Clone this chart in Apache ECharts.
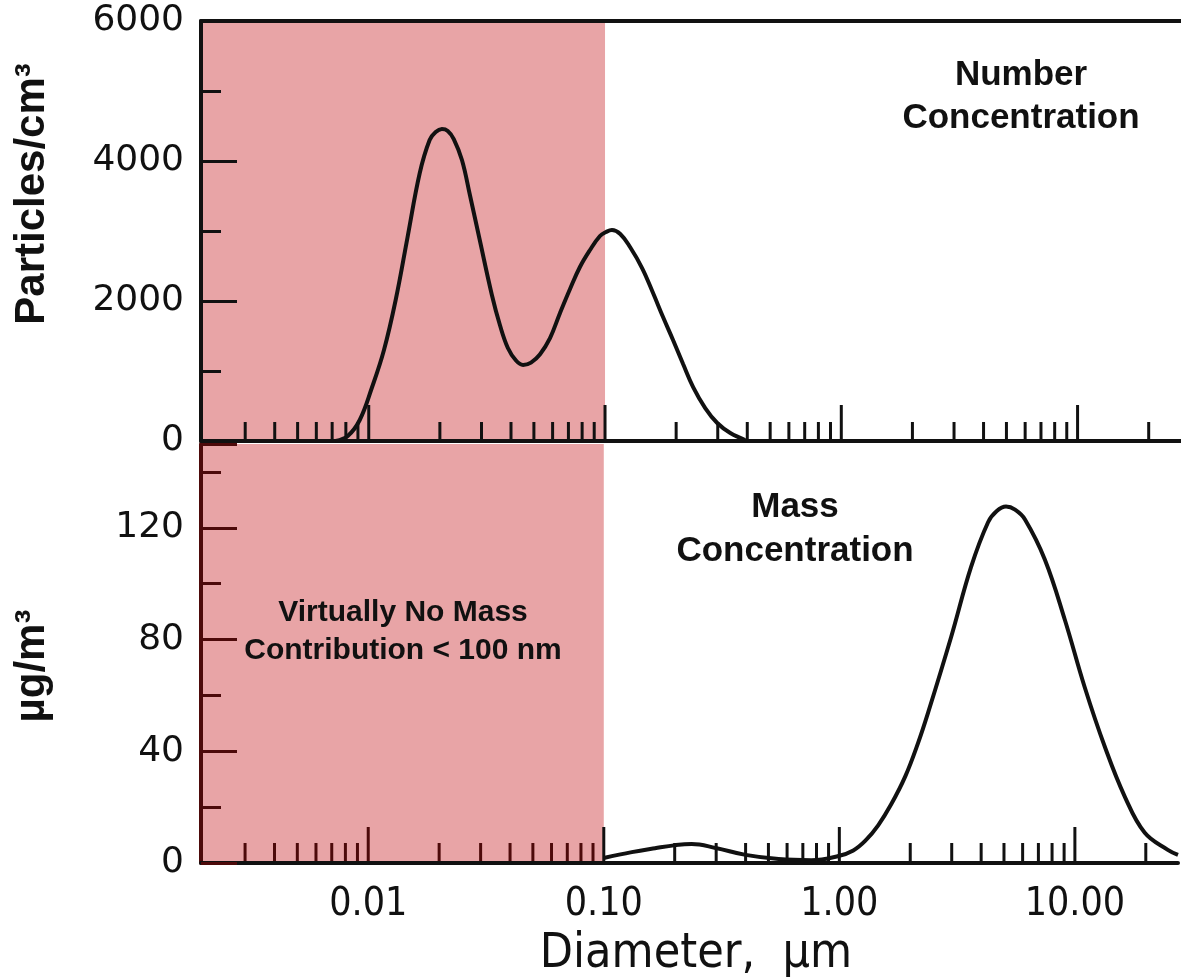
<!DOCTYPE html>
<html><head><meta charset="utf-8">
<script src="https://cdn.jsdelivr.net/npm/echarts@6/dist/echarts.min.js"></script>
<style>html,body{margin:0;padding:0;background:#fff}#c{width:1181px;height:979px}</style>
</head><body><div id="c"></div>
<script>
// ---- data ----
const xMin = 0.00195, xMax = 27.4;
const xTickValues = [0.01, 0.1, 1, 10];
const xTickLabels = ['0.01', '0.10', '1.00', '10.00'];
const minorTickValues = [0.003,0.004,0.005,0.006,0.007,0.008,0.009,
  0.02,0.03,0.04,0.05,0.06,0.07,0.08,0.09,
  0.2,0.3,0.4,0.5,0.6,0.7,0.8,0.9,
  2,3,4,5,6,7,8,9,20];
const majorTickValues = [0.01, 0.1, 1, 10];
const shadeEnd = 0.1;

const numberDiam = [0.00725,0.00815,0.00916,0.0103,0.0116,0.0130,0.0146,0.01644,0.0181,0.0192,0.0204,0.0216,0.0229,0.0248,0.0268,0.0295,0.0332,0.0359,0.0388,0.0420,0.0450,0.0486,0.0531,0.0585,0.0645,0.0711,0.0783,0.0864,0.0952,0.101,0.107,0.116,0.1276,0.1435,0.1597,0.176,0.194,0.214,0.236,0.2655,0.2985,0.339,0.392];
const numberConc = [0,71,300,757,1300,2014,2914,3829,4300,4414,4457,4429,4314,4014,3514,2871,2086,1657,1329,1150,1086,1120,1240,1470,1829,2171,2486,2729,2929,2986,3014,2957,2771,2471,2114,1771,1443,1100,771,471,257,114,14];

const massDiam = [0.1,0.1315,0.165,0.2018,0.236,0.2985,0.4,0.552,0.761,0.991,1.146,1.29,1.462,1.66,1.905,2.16,2.385,2.985,3.625,4.28,4.66,5.1,5.57,6.14,7.46,9.07,11.0,13.4,16.3,19.8,24.8,27.4];
const massConc = [1.8,3.9,5.3,6.4,6.8,5.4,2.9,1.4,1.0,2.5,4.5,8,13.5,21,31,43,54,81,106,122,126,127.6,126.5,123,108.6,87,63,41.6,23.7,10.8,4.7,2.9];

const topYMax = 6000, topYInterval = 2000, topYMinor = 1000;
const botYMax = 150, botYInterval = 40, botYMinor = 20;
const botYLabels = [0, 40, 80, 120];

// ---- chart ----
const chart = echarts.init(document.getElementById('c'), null, {renderer: 'canvas'});
const BLACK = '#111', MAROON = '#4d0a0a', PINK = '#e8a4a6';
const pairs = (xs, ys) => xs.map((x, i) => [x, ys[i]]);

function xFmt(v) {
  for (let i = 0; i < xTickValues.length; i++) {
    if (Math.abs(Math.log10(v) - Math.log10(xTickValues[i])) < 1e-6) return xTickLabels[i];
  }
  return '';
}
function tickSeries(grid, values, len, inPinkColor) {
  return {
    type: 'custom', xAxisIndex: grid, yAxisIndex: grid === 0 ? 0 : 1, z: 4, silent: true,
    data: values.map(v => [v, 0]),
    renderItem: function (params, api) {
      const v = api.value(0);
      const p = api.coord([v, 0]);
      return {type: 'line', shape: {x1: p[0], y1: p[1], x2: p[0], y2: p[1] - len},
        style: {stroke: v < shadeEnd ? inPinkColor : BLACK, lineWidth: 3}};
    }
  };
}
const logAxis = (grid, extra) => Object.assign({
  type: 'log', logBase: 10, gridIndex: grid, min: xMin, max: xMax,
  axisLine: {show: true, onZero: false, lineStyle: {color: BLACK, width: 4}},
  axisTick: {show: false}, splitLine: {show: false}, minorTick: {show: false},
  axisLabel: {show: false}, z: 6
}, extra || {});

const yLabelStyle = {fontFamily: '"DejaVu Sans"', fontSize: 36, color: BLACK, margin: 17, formatter: v => String(v)};

const option = {
  animation: false,
  backgroundColor: '#fff',
  grid: [
    {left: 201, top: 21, width: 980, height: 420},
    {left: 201, top: 444, width: 980, height: 419}
  ],
  xAxis: [
    logAxis(0, {position: 'bottom'}),
    logAxis(1, {position: 'bottom', axisLabel: {show: true, formatter: xFmt, fontFamily: '"DejaVu Sans Condensed", "DejaVu Sans", sans-serif', fontSize: 39, color: BLACK, margin: 22}}),
    logAxis(0, {position: 'top'})
  ],
  yAxis: [
    {type: 'value', gridIndex: 0, min: 0, max: topYMax, interval: topYInterval, position: 'left', z: 6,
      axisLine: {show: true, onZero: false, lineStyle: {color: BLACK, width: 4}},
      axisTick: {show: true, inside: true, length: 36, lineStyle: {color: BLACK, width: 3}},
      splitLine: {show: false}, axisLabel: yLabelStyle},
    {type: 'value', gridIndex: 1, min: 0, max: botYMax, interval: botYInterval, position: 'left', z: 6,
      axisLine: {show: true, onZero: false, lineStyle: {color: MAROON, width: 4}},
      axisTick: {show: true, inside: true, length: 36, lineStyle: {color: MAROON, width: 3}},
      splitLine: {show: false},
      axisLabel: Object.assign({}, yLabelStyle, {formatter: v => botYLabels.indexOf(v) >= 0 ? String(v) : ''})},
    {type: 'value', gridIndex: 1, min: 0, max: botYMax, interval: botYMinor, position: 'left', z: 5,
      axisLine: {show: false}, axisLabel: {show: false}, splitLine: {show: false},
      axisTick: {show: true, inside: true, length: 20, lineStyle: {color: MAROON, width: 3}}},
    {type: 'value', gridIndex: 0, min: 0, max: topYMax, interval: topYMinor, position: 'left', z: 5,
      axisLine: {show: false}, axisLabel: {show: false}, splitLine: {show: false},
      axisTick: {show: true, inside: true, length: 20, lineStyle: {color: BLACK, width: 3}}}
  ],
  series: [
    {type: 'line', xAxisIndex: 0, yAxisIndex: 0, data: [], z: 1, silent: true,
      markArea: {silent: true, itemStyle: {color: PINK}, data: [[{xAxis: xMin}, {xAxis: shadeEnd}]]}},
    {type: 'line', xAxisIndex: 1, yAxisIndex: 1, data: [], z: 1, silent: true,
      markArea: {silent: true, itemStyle: {color: PINK}, data: [[{xAxis: xMin}, {xAxis: shadeEnd}]]}},
    tickSeries(0, minorTickValues, 19, BLACK),
    tickSeries(0, majorTickValues, 36, BLACK),
    tickSeries(1, minorTickValues, 20, MAROON),
    tickSeries(1, majorTickValues, 36, MAROON),
    {type: 'line', name: 'Number', xAxisIndex: 0, yAxisIndex: 0, z: 8, smooth: 0.4, symbol: 'none',
      lineStyle: {color: BLACK, width: 4}, data: pairs(numberDiam, numberConc)},
    {type: 'line', name: 'Mass', xAxisIndex: 1, yAxisIndex: 1, z: 8, smooth: 0.4, symbol: 'none',
      lineStyle: {color: BLACK, width: 4}, data: pairs(massDiam, massConc)}
  ],
  graphic: [
    {type: 'text', x: 1021, y: 97, z: 20, style: {text: 'Number\nConcentration', align: 'center', verticalAlign: 'middle',
      font: 'bold 35px "Liberation Sans", Arial, sans-serif', lineHeight: 43, fill: BLACK}},
    {type: 'text', x: 795, y: 529, z: 20, style: {text: 'Mass\nConcentration', align: 'center', verticalAlign: 'middle',
      font: 'bold 35px "Liberation Sans", Arial, sans-serif', lineHeight: 44, fill: BLACK}},
    {type: 'text', x: 403, y: 632, z: 20, style: {text: 'Virtually No Mass\nContribution < 100 nm', align: 'center', verticalAlign: 'middle',
      font: 'bold 30px "Liberation Sans", Arial, sans-serif', lineHeight: 38, fill: BLACK}},
    {type: 'text', x: 32, y: 194, rotation: Math.PI / 2, z: 20, style: {text: 'Particles/cm³', align: 'center', verticalAlign: 'middle',
      font: 'bold 42px "Liberation Sans", Arial, sans-serif', fill: BLACK}},
    {type: 'text', x: 32, y: 666, rotation: Math.PI / 2, z: 20, style: {text: 'µg/m³', align: 'center', verticalAlign: 'middle',
      font: 'bold 42px "Liberation Sans", Arial, sans-serif', fill: BLACK}},
    {type: 'text', x: 696, y: 955, z: 20, style: {text: 'Diameter,  µm', align: 'center', verticalAlign: 'middle',
      font: '48px "DejaVu Sans Condensed", "DejaVu Sans", sans-serif', fill: BLACK}}
  ]
};
chart.setOption(option);
</script></body></html>
